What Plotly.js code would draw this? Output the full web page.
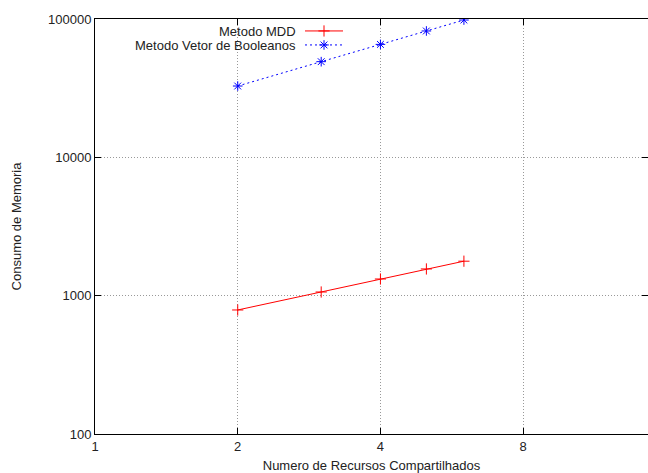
<!DOCTYPE html>
<html><head><meta charset="utf-8">
<script src="https://cdn.plot.ly/plotly-3.0.1.min.js"></script>
<style>html,body{margin:0;padding:0;background:#fff}</style>
</head><body><div id="chart" style="width:648px;height:473px"></div>
<script>
// ---- data ----
const recursos = [2, 3, 4, 5, 6];
const consumoMDD = [788, 1063, 1320, 1560, 1775];
const consumoBooleanos = [32768, 49152, 65536, 81920, 98304];
const seriesNames = ['Metodo MDD', 'Metodo Vetor de Booleanos'];
const xMajorTicks = [1, 2, 4, 8];
const xMinorTicks = [3, 5, 6, 7, 9, 10, 12, 14];
const yMajorTicks = [100, 1000, 10000, 100000];
const yMajorLabels = ['100', '1000', '10000', '100000'];
const yMinorTicks = [200,300,400,500,600,700,800,900,2000,3000,4000,5000,6000,7000,8000,9000,20000,30000,40000,50000,60000,70000,80000,90000];
const xTitle = 'Numero de Recursos Compartilhados';
const yTitle = 'Consumo de Memoria';

const FONT = 'Liberation Sans, Arial, sans-serif';
const xr = [0, Math.log10(14.67)];
const yr = [2, 5];

const traces = [
  {x: recursos, y: consumoMDD, name: seriesNames[0], type: 'scatter', mode: 'lines+markers',
   line: {color: '#ff0000', width: 1}, marker: {symbol: 'cross-thin-open', size: 8, color: '#ff0000', line: {color: '#ff0000', width: 1}},
   showlegend: false},
  {x: recursos, y: consumoBooleanos, name: seriesNames[1], type: 'scatter', mode: 'lines+markers',
   line: {color: '#0000ff', width: 1, dash: '2px,3px'}, marker: {symbol: 'asterisk-open', size: 8, color: '#0000ff', line: {color: '#0000ff', width: 1}},
   showlegend: false},
  // legend samples (no data)
  {x: [null], y: [null], name: '', type: 'scatter', mode: 'lines+markers', legend: 'legend',
   line: {color: '#ff0000', width: 1}, marker: {symbol: 'cross-thin-open', size: 8, color: '#ff0000', line: {color: '#ff0000', width: 1}}},
  {x: [null], y: [null], name: '', type: 'scatter', mode: 'lines+markers', legend: 'legend2',
   line: {color: '#0000ff', width: 1, dash: '2px,3px'}, marker: {symbol: 'asterisk-open', size: 8, color: '#0000ff', line: {color: '#0000ff', width: 1}}}
];

const legBase = {bgcolor: 'rgba(0,0,0,0)', borderwidth: 0, xanchor: 'left', yanchor: 'middle', itemwidth: 38, font: {family: FONT, size: 13}};
const ph = 415, pw = 553;

const layout = {
  width: 648, height: 473,
  margin: {l: 95, r: 0, t: 19, b: 39},
  paper_bgcolor: '#fff', plot_bgcolor: '#fff',
  font: {family: FONT, size: 13, color: '#222'},
  showlegend: true,
  legend: Object.assign({}, legBase, {x: (300 - 95) / pw, y: 1 - 12 / ph}),
  legend2: Object.assign({}, legBase, {x: (300 - 95) / pw, y: 1 - 26 / ph}),
  xaxis: {type: 'log', range: xr, tickvals: xMajorTicks, ticktext: xMajorTicks.map(String),
    ticks: 'inside', ticklen: 6, tickcolor: '#000', showline: true, linecolor: '#000', linewidth: 1, mirror: 'ticks',
    showgrid: true, gridcolor: '#999', griddash: '1px,2px', gridwidth: 1, zeroline: false,
    tickfont: {family: FONT, size: 13, color: '#222'},
    title: {text: xTitle, font: {family: FONT, size: 13, color: '#222'}, standoff: 8}},
  yaxis: {type: 'log', range: yr, tickvals: yMajorTicks, ticktext: yMajorLabels,
    ticks: 'inside', ticklen: 6, tickcolor: '#000', showline: true, linecolor: '#000', linewidth: 1, mirror: 'ticks',
    showgrid: true, gridcolor: '#999', griddash: '1px,2px', gridwidth: 1, zeroline: false,
    tickfont: {family: FONT, size: 13, color: '#222'},
    title: {text: yTitle, font: {family: FONT, size: 13, color: '#222'}, standoff: 23}},
  xaxis2: {type: 'log', range: xr, overlaying: 'x', anchor: 'y', tickvals: xMinorTicks, showticklabels: false,
    ticks: 'inside', ticklen: 3, tickcolor: '#000', showgrid: false, zeroline: false, showline: false, mirror: 'ticks'},
  yaxis2: {type: 'log', range: yr, overlaying: 'y', anchor: 'x', tickvals: yMinorTicks, showticklabels: false,
    ticks: 'inside', ticklen: 3, tickcolor: '#000', showgrid: false, zeroline: false, showline: false, mirror: 'ticks'},
  annotations: [
    {text: seriesNames[0], xref: 'paper', yref: 'paper', x: (298 - 95) / pw, y: 1 - 12 / ph, xanchor: 'right', yanchor: 'middle', showarrow: false, font: {family: FONT, size: 13, color: '#222'}},
    {text: seriesNames[1], xref: 'paper', yref: 'paper', x: (298 - 95) / pw, y: 1 - 26 / ph, xanchor: 'right', yanchor: 'middle', showarrow: false, font: {family: FONT, size: 13, color: '#222'}}
  ]
};

Plotly.newPlot('chart', traces, layout, {staticPlot: true, displayModeBar: false});
</script></body></html>
